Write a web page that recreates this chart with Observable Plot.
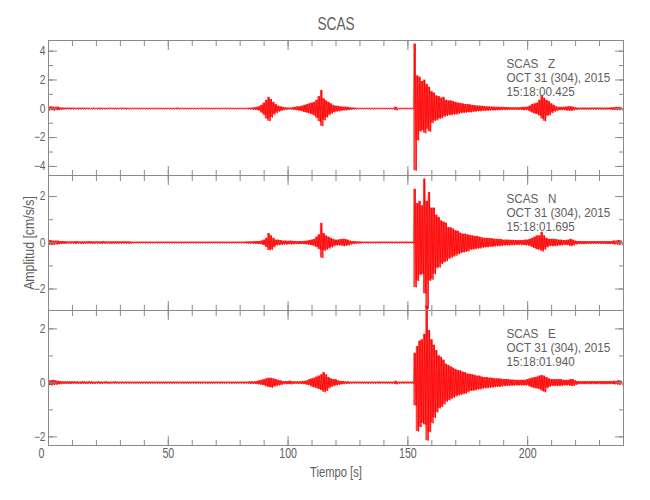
<!DOCTYPE html>
<html><head><meta charset="utf-8">
<script src="https://cdn.jsdelivr.net/npm/d3@7"></script>
<script src="https://cdn.jsdelivr.net/npm/@observablehq/plot@0.6"></script>
<style>
body{margin:0;background:#fff;}
#chart{width:650px;height:500px;}
#chart svg{display:block;overflow:visible;}
</style></head><body><div id="chart"></div>
<script>
// ---- labels ----
const title = "SCAS";
const station = "SCAS";
const components = ["Z", "N", "E"];
const dateLine = "OCT 31 (304), 2015";
const startTimes = ["15:18:00.425", "15:18:01.695", "15:18:01.940"];
const yLabel = "Amplitud [cm/s/s]";
const xLabel = "Tiempo [s]";

// ---- ticks ----
const xDomain = [0, 240];
const xMajor = [0, 50, 100, 150, 200];
const xMinor = [0,10,20,30,40,50,60,70,80,90,100,110,120,130,140,150,160,170,180,190,200,210,220,230,240];
const yMajorZ = [-4, -2, 0, 2, 4];
const yMinorZ = [-4, -3, -2, -1, 0, 1, 2, 3, 4];
const yMajorNE = [-2, 0, 2];
const yMinorNE = [-2, -1, 0, 1, 2];
const yDomainZ = [-4.63, 4.74];
const yDomainN = [-2.93, 2.91];
const yDomainE = [-2.32, 2.68];

// ---- 1-second envelope of each trace (max / min in each second, t = 0..239 s) ----
const Z_hi = [
.12,.14,.12,.1,.12,.08,.06,.05,.05,.06,
.05,.05,.04,.05,.05,.04,.05,.04,.04,.05,
.04,.04,.05,.04,.04,.04,.05,.04,.04,.04,
.04,.05,.04,.04,.04,.03,.03,.03,.03,.03,
.03,.03,.03,.03,.03,.03,.03,.03,.03,.03,
.03,.03,.03,.03,.05,.03,.03,.03,.03,.03,
.03,.03,.03,.03,.03,.03,.03,.03,.03,.03,
.03,.03,.03,.03,.03,.03,.03,.03,.03,.03,
.03,.03,.04,.04,.05,.06,.08,.1,.15,.25,
.4,.6,.8,.65,.45,.3,.2,.15,.1,.08,
.06,.06,.08,.1,.15,.15,.2,.25,.3,.35,
.4,.45,.6,.85,1.27,.7,.55,.45,.35,.25,
.2,.18,.15,.12,.12,.1,.08,.06,.05,.04,
.04,.03,.03,.03,.03,.03,.03,.03,.03,.03,
.03,.03,.03,.03,.04,.12,.04,.03,.03,.03,
.03,.03,.03,4.5,2.3,2.2,1.9,2.0,1.7,1.5,
1.2,1.1,.9,.85,.75,.8,.6,.55,.55,.5,
.45,.4,.38,.35,.3,.3,.28,.25,.22,.2,
.2,.18,.16,.15,.14,.13,.12,.12,.11,.1,
.1,.09,.09,.08,.08,.08,.08,.08,.1,.1,
.12,.2,.3,.35,.4,.6,.92,.75,.6,.5,
.35,.25,.15,.1,.1,.1,.12,.15,.15,.12,
.08,.06,.06,.06,.06,.06,.06,.06,.06,.06,
.06,.06,.06,.06,.06,.08,.08,.1,.1,.1];
const Z_lo = [
-.12,-.1,-.14,-.1,-.1,-.08,-.06,-.05,-.05,-.05,
-.05,-.04,-.05,-.05,-.04,-.05,-.04,-.05,-.04,-.04,
-.04,-.05,-.04,-.04,-.05,-.04,-.04,-.04,-.05,-.04,
-.04,-.04,-.04,-.05,-.04,-.03,-.03,-.03,-.03,-.03,
-.03,-.03,-.03,-.03,-.03,-.03,-.03,-.03,-.03,-.03,
-.03,-.03,-.03,-.03,-.05,-.03,-.03,-.03,-.03,-.03,
-.03,-.03,-.03,-.03,-.03,-.03,-.03,-.03,-.03,-.03,
-.03,-.03,-.03,-.03,-.03,-.03,-.03,-.03,-.03,-.03,
-.03,-.03,-.04,-.04,-.05,-.06,-.08,-.1,-.15,-.3,
-.45,-.7,-.86,-.6,-.4,-.3,-.2,-.15,-.1,-.08,
-.06,-.06,-.08,-.1,-.12,-.15,-.2,-.25,-.3,-.35,
-.4,-.5,-.65,-.9,-1.21,-.8,-.6,-.45,-.35,-.25,
-.2,-.18,-.15,-.12,-.12,-.1,-.08,-.06,-.05,-.04,
-.04,-.03,-.03,-.03,-.03,-.03,-.03,-.03,-.03,-.03,
-.03,-.03,-.03,-.03,-.04,-.12,-.04,-.03,-.03,-.03,
-.03,-.03,-.03,-4.3,-2.2,-1.6,-1.5,-1.7,-1.4,-1.6,
-1.0,-.85,-.8,-.7,-.65,-.55,-.5,-.45,-.45,-.4,
-.4,-.35,-.3,-.3,-.28,-.25,-.25,-.22,-.2,-.18,
-.18,-.16,-.15,-.14,-.13,-.12,-.12,-.11,-.1,-.1,
-.09,-.09,-.08,-.08,-.08,-.08,-.08,-.08,-.1,-.1,
-.1,-.2,-.3,-.35,-.4,-.5,-.7,-.86,-.5,-.45,
-.3,-.2,-.15,-.1,-.1,-.1,-.12,-.15,-.15,-.12,
-.08,-.06,-.06,-.06,-.06,-.06,-.06,-.06,-.06,-.06,
-.06,-.06,-.06,-.06,-.06,-.08,-.08,-.1,-.1,-.1];

const N_hi = [
.1,.1,.08,.08,.08,.06,.05,.05,.04,.04,
.04,.04,.05,.04,.04,.04,.04,.05,.04,.04,
.04,.04,.04,.05,.04,.04,.04,.04,.04,.04,
.04,.04,.04,.04,.04,.03,.03,.03,.03,.03,
.03,.03,.03,.03,.03,.03,.03,.03,.03,.03,
.03,.03,.03,.03,.03,.03,.03,.03,.03,.03,
.03,.03,.03,.03,.03,.03,.03,.03,.03,.03,
.03,.03,.03,.03,.03,.03,.03,.03,.03,.03,
.03,.03,.03,.04,.04,.04,.05,.06,.06,.08,
.12,.2,.4,.3,.2,.12,.12,.1,.08,.08,
.07,.08,.07,.06,.06,.06,.06,.07,.08,.1,
.12,.15,.25,.35,.84,.4,.3,.25,.2,.15,
.12,.12,.14,.15,.15,.12,.08,.06,.05,.04,
.04,.03,.03,.03,.03,.03,.03,.03,.03,.03,
.03,.03,.03,.03,.03,.03,.03,.03,.03,.03,
.03,.03,.03,2.32,1.7,1.8,1.6,2.76,1.8,2.18,
1.5,1.5,1.2,1.1,.95,.9,.85,.66,.65,.6,
.52,.5,.42,.38,.38,.35,.32,.3,.28,.28,
.25,.22,.2,.2,.18,.18,.16,.15,.15,.14,
.12,.12,.12,.11,.11,.1,.1,.1,.1,.12,
.12,.15,.2,.25,.3,.3,.45,.3,.2,.15,
.15,.15,.14,.12,.12,.1,.1,.12,.15,.12,
.08,.06,.06,.06,.06,.05,.05,.05,.05,.05,
.05,.05,.05,.06,.06,.06,.08,.08,.1,.1];
const N_lo = [
-.08,-.1,-.1,-.08,-.07,-.06,-.05,-.05,-.04,-.04,
-.04,-.05,-.04,-.04,-.05,-.04,-.04,-.04,-.05,-.04,
-.04,-.04,-.05,-.04,-.04,-.04,-.05,-.04,-.04,-.04,
-.04,-.04,-.04,-.04,-.04,-.03,-.03,-.03,-.03,-.03,
-.03,-.03,-.03,-.03,-.03,-.03,-.03,-.03,-.03,-.03,
-.03,-.03,-.03,-.03,-.03,-.03,-.03,-.03,-.03,-.03,
-.03,-.03,-.03,-.03,-.03,-.03,-.03,-.03,-.03,-.03,
-.03,-.03,-.03,-.03,-.03,-.03,-.03,-.03,-.03,-.03,
-.03,-.03,-.03,-.04,-.04,-.04,-.05,-.06,-.06,-.08,
-.12,-.2,-.33,-.3,-.2,-.12,-.1,-.1,-.08,-.08,
-.07,-.08,-.07,-.06,-.06,-.06,-.06,-.07,-.08,-.1,
-.12,-.15,-.2,-.3,-.66,-.35,-.3,-.25,-.2,-.15,
-.12,-.12,-.12,-.15,-.14,-.12,-.08,-.06,-.05,-.04,
-.04,-.03,-.03,-.03,-.03,-.03,-.03,-.03,-.03,-.03,
-.03,-.03,-.03,-.03,-.03,-.03,-.03,-.03,-.03,-.03,
-.03,-.03,-.03,-1.93,-1.65,-1.4,-1.36,-2.2,-2.85,-1.65,
-1.6,-1.36,-1.1,-1.07,-.92,-.85,-.8,-.7,-.65,-.6,
-.56,-.5,-.45,-.42,-.4,-.38,-.3,-.3,-.28,-.26,
-.25,-.22,-.2,-.2,-.18,-.18,-.16,-.15,-.15,-.14,
-.12,-.12,-.12,-.11,-.11,-.1,-.1,-.1,-.1,-.12,
-.12,-.15,-.2,-.25,-.3,-.3,-.38,-.3,-.2,-.15,
-.15,-.15,-.14,-.12,-.12,-.1,-.1,-.12,-.15,-.12,
-.08,-.06,-.06,-.06,-.06,-.05,-.05,-.05,-.05,-.05,
-.05,-.05,-.05,-.06,-.06,-.06,-.08,-.08,-.1,-.1];

const E_hi = [
.1,.08,.1,.08,.06,.05,.04,.04,.04,.04,
.04,.04,.04,.03,.04,.04,.03,.04,.04,.03,
.03,.04,.03,.03,.04,.03,.03,.03,.04,.03,
.03,.03,.03,.03,.03,.03,.03,.03,.03,.03,
.03,.03,.03,.03,.03,.03,.03,.03,.03,.03,
.03,.03,.03,.03,.03,.03,.03,.03,.03,.03,
.03,.03,.03,.03,.03,.03,.03,.03,.03,.03,
.03,.03,.03,.03,.03,.03,.03,.03,.03,.03,
.03,.03,.03,.03,.04,.04,.04,.05,.08,.1,
.12,.15,.18,.17,.15,.12,.1,.08,.05,.05,
.05,.07,.04,.04,.04,.04,.05,.06,.08,.12,
.15,.18,.22,.25,.3,.38,.3,.2,.15,.12,
.12,.08,.06,.05,.04,.04,.03,.03,.03,.03,
.03,.03,.03,.03,.03,.03,.03,.03,.03,.03,
.03,.03,.03,.03,.03,.06,.03,.03,.03,.03,
.03,.03,.03,1.1,1.35,1.55,1.6,1.8,2.85,1.94,
1.6,1.4,1.2,1.0,.95,.85,.7,.65,.6,.55,
.5,.46,.45,.4,.38,.33,.32,.3,.28,.25,
.25,.22,.2,.2,.18,.18,.16,.15,.15,.14,
.12,.12,.12,.11,.11,.1,.1,.1,.1,.1,
.12,.15,.18,.2,.22,.25,.27,.25,.2,.15,
.12,.12,.12,.12,.12,.1,.1,.1,.12,.12,
.08,.05,.05,.05,.05,.05,.05,.05,.05,.05,
.05,.05,.05,.05,.05,.05,.06,.06,.08,.08];
const E_lo = [
-.08,-.1,-.08,-.08,-.06,-.05,-.04,-.04,-.04,-.04,
-.04,-.03,-.04,-.04,-.03,-.04,-.04,-.03,-.04,-.04,
-.03,-.03,-.04,-.03,-.03,-.04,-.03,-.03,-.03,-.03,
-.03,-.03,-.03,-.03,-.03,-.03,-.03,-.03,-.03,-.03,
-.03,-.03,-.03,-.03,-.03,-.03,-.03,-.03,-.03,-.03,
-.03,-.03,-.03,-.03,-.03,-.03,-.03,-.03,-.03,-.03,
-.03,-.03,-.03,-.03,-.03,-.03,-.03,-.03,-.03,-.03,
-.03,-.03,-.03,-.03,-.03,-.03,-.03,-.03,-.03,-.03,
-.03,-.03,-.03,-.03,-.04,-.04,-.04,-.05,-.07,-.08,
-.1,-.14,-.16,-.18,-.14,-.12,-.1,-.08,-.05,-.05,
-.05,-.06,-.04,-.04,-.04,-.04,-.05,-.06,-.08,-.1,
-.15,-.18,-.2,-.25,-.28,-.35,-.3,-.2,-.15,-.12,
-.1,-.08,-.06,-.05,-.04,-.04,-.03,-.03,-.03,-.03,
-.03,-.03,-.03,-.03,-.03,-.03,-.03,-.03,-.03,-.03,
-.03,-.03,-.03,-.03,-.03,-.06,-.03,-.03,-.03,-.03,
-.03,-.03,-.03,-.85,-1.8,-1.64,-1.5,-1.55,-2.14,-1.83,
-1.5,-1.3,-1.1,-.95,-.9,-.8,-.7,-.65,-.6,-.55,
-.5,-.47,-.45,-.42,-.4,-.35,-.3,-.3,-.28,-.25,
-.25,-.22,-.2,-.2,-.18,-.18,-.16,-.15,-.15,-.14,
-.12,-.12,-.12,-.11,-.11,-.1,-.1,-.1,-.1,-.1,
-.1,-.15,-.18,-.2,-.22,-.25,-.3,-.35,-.2,-.15,
-.12,-.12,-.12,-.12,-.12,-.1,-.1,-.1,-.12,-.12,
-.08,-.05,-.05,-.05,-.05,-.05,-.05,-.05,-.05,-.05,
-.05,-.05,-.05,-.05,-.05,-.05,-.06,-.06,-.08,-.08];

// ---- drawing ----
const FONT = "'Liberation Sans', Arial, sans-serif";
const FRAME = "#8a8a8a";
const TEXT = "#606060";
const RED = "#ff0000";

const binTimes = d3.range(Z_hi.length); // start of each 1-s bin
function trace(hi, lo) {
  const pts = [];
  binTimes.forEach((t, i) => {
    pts.push({t, v: hi[i]});
    pts.push({t: t + 0.5, v: lo[i]});
  });
  return pts;
}
function band(hi, lo) {
  return binTimes.map((t, i) => ({t, hi: hi[i], lo: lo[i]}));
}

function tickAxes(yMajor, yMinor) {
  const none = () => "";
  const common = {stroke: FRAME, label: null, tickFormat: none};
  return [
    Plot.axisX(xMajor, {...common, anchor: "bottom", tickSize: -9}),
    Plot.axisX(xMinor, {...common, anchor: "bottom", tickSize: -5}),
    Plot.axisX(xMajor, {...common, anchor: "top", tickSize: -9}),
    Plot.axisX(xMinor, {...common, anchor: "top", tickSize: -5}),
    Plot.axisY(yMajor, {...common, anchor: "left", tickSize: -9}),
    Plot.axisY(yMinor, {...common, anchor: "left", tickSize: -5}),
    Plot.axisY(yMajor, {...common, anchor: "right", tickSize: -9}),
    Plot.axisY(yMinor, {...common, anchor: "right", tickSize: -5}),
    Plot.axisY(yMajor, {anchor: "left", tickSize: 0, tickPadding: 3, label: null,
      tickFormat: d3.format("d"), fill: TEXT, fontSize: 12})
  ];
}

function panel(i, hi, lo, yDomain, yMajor, yMinor, height, marginTop, marginBottom, extra) {
  return Plot.plot({
    width: 650, height, marginTop, marginBottom, marginLeft: 48, marginRight: 27,
    style: {background: "transparent", overflow: "visible", fontFamily: FONT, fontSize: "12px", color: TEXT},
    x: {domain: xDomain},
    y: {domain: yDomain},
    marks: [
      Plot.areaY(band(hi, lo), {x: "t", y1: "lo", y2: "hi", fill: RED, fillOpacity: 0.75, curve: "step"}),
      Plot.line(trace(hi, lo), {x: "t", y: "v", stroke: RED, strokeWidth: 0.8}),
      Plot.frame({stroke: FRAME}),
      ...tickAxes(yMajor, yMinor),
      Plot.text([`${station}   ${components[i]}\n${dateLine}\n${startTimes[i]}`], {
        frameAnchor: "top-right", textAnchor: "start", lineAnchor: "top",
        dx: -117, dy: 17, fontSize: 13, lineHeight: 1.1, fill: TEXT
      }),
      ...extra
    ]
  });
}

// narrow the text horizontally to match the thin, condensed lettering of the original
function condense(svg) {
  const squeeze = (el, s) => el.setAttribute("transform", (el.getAttribute("transform") || "") + ` scale(${s},1)`);
  svg.querySelectorAll('g[aria-label="y-axis tick label"] text').forEach(t => squeeze(t, 0.85));
  svg.querySelectorAll('g[aria-label="x-axis tick label"] text').forEach(t => squeeze(t, 0.76));
  svg.querySelectorAll('g[aria-label="text"] text').forEach(t => {
    const s = t.textContent;
    squeeze(t, s === title ? 0.72 : s === yLabel ? 0.88 : s === xLabel ? 0.8 : 0.9);
  });
  return svg;
}

const chart = document.getElementById("chart");
chart.append(condense(panel(0, Z_hi, Z_lo, yDomainZ, yMajorZ, yMinorZ, 175, 40, 0, [
  Plot.text([title], {frameAnchor: "top", dy: -17, lineAnchor: "middle", fontSize: 19, fill: TEXT})
])));
chart.append(condense(panel(1, N_hi, N_lo, yDomainN, yMajorNE, yMinorNE, 135, 0, 0, [
  Plot.text([yLabel], {frameAnchor: "left", rotate: -90, dx: -19, textAnchor: "middle", lineAnchor: "middle", fontSize: 14, fill: TEXT})
])));
chart.append(condense(panel(2, E_hi, E_lo, yDomainE, yMajorNE, yMinorNE, 190, 0, 55, [
  Plot.axisX([0], {anchor: "bottom", tickSize: 0, tickPadding: 3, label: null, fill: TEXT, fontSize: 14, dx: -7}),
  Plot.axisX(xMajor.slice(1), {anchor: "bottom", tickSize: 0, tickPadding: 3, label: null, fill: TEXT, fontSize: 14}),
  Plot.text([xLabel], {frameAnchor: "bottom", dy: 27, lineAnchor: "middle", fontSize: 14, fill: TEXT})
])));
</script></body></html>
